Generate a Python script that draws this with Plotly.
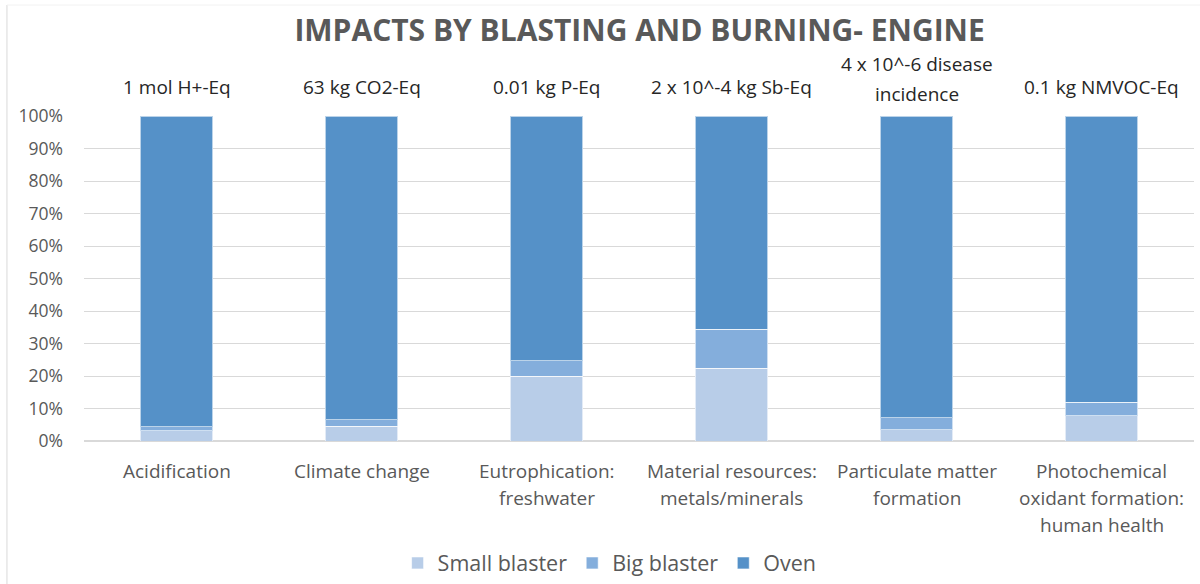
import plotly.graph_objects as go

categories = [
    "Acidification",
    "Climate change",
    "Eutrophication: freshwater",
    "Material resources: metals/minerals",
    "Particulate matter formation",
    "Photochemical oxidant formation: human health",
]
# wrapped category labels, one entry per drawn line
category_lines = [
    ["Acidification"],
    ["Climate change"],
    ["Eutrophication:", "freshwater"],
    ["Material resources:", "metals/minerals"],
    ["Particulate matter", "formation"],
    ["Photochemical", "oxidant formation:", "human health"],
]
unit_lines = [
    ["1 mol H+-Eq"],
    ["63 kg CO2-Eq"],
    ["0.01 kg P-Eq"],
    ["2 x 10^-4 kg Sb-Eq"],
    ["4 x 10^-6 disease", "incidence"],
    ["0.1 kg NMVOC-Eq"],
]
small_blaster = [3.1, 4.6, 20.0, 22.4, 3.4, 7.7]
big_blaster = [1.3, 1.9, 4.7, 12.0, 3.8, 4.3]
oven = [95.6, 93.5, 75.3, 65.6, 92.8, 88.0]

series = [
    ("Small blaster", small_blaster, "#B8CDE8"),
    ("Big blaster", big_blaster, "#84AEDC"),
    ("Oven", oven, "#5591C8"),
]

font_family = "Open Sans, Carlito, Calibri, sans-serif"

fig = go.Figure()
for name, vals, color in series:
    fig.add_trace(go.Bar(
        name=name,
        x=categories,
        y=[v / 100 for v in vals],
        marker=dict(color=color, line=dict(color="rgba(255,255,255,0.6)", width=1)),
        width=0.39,
    ))

# category labels below the axis, 27 px line pitch
for cat, lines in zip(categories, category_lines):
    for i, line in enumerate(lines):
        fig.add_annotation(
            x=cat, y=0, xref="x", yref="paper",
            text=line, showarrow=False,
            yanchor="middle", yshift=-30 - 27 * i,
            font=dict(family=font_family, size=19, color="#595959"),
        )

# reference-unit labels above each bar
for cat, lines in zip(categories, unit_lines):
    if len(lines) == 1:
        shifts = [29]
    else:
        shifts = [52, 22]
    for line, s in zip(lines, shifts):
        fig.add_annotation(
            x=cat, y=1, xref="x", yref="paper",
            text=line, showarrow=False,
            yanchor="middle", yshift=s,
            font=dict(family=font_family, size=19, color="#262626"),
        )

fig.update_layout(
    barmode="stack",
    width=1200, height=584,
    margin=dict(l=84, r=6, t=116, b=143),
    paper_bgcolor="white",
    plot_bgcolor="white",
    title=dict(
        text="<b>IMPACTS BY BLASTING AND BURNING- ENGINE</b>",
        x=0.533, xanchor="center", y=0.948, yanchor="middle",
        font=dict(family=font_family, size=30, color="#595959"),
    ),
    font=dict(family=font_family, size=17, color="#595959"),
    legend=dict(
        orientation="h", xref="container", yref="container",
        x=0.508, xanchor="center", y=0.036, yanchor="middle",
        font=dict(family=font_family, size=21.5, color="#595959"),
        traceorder="normal",
    ),
    xaxis=dict(
        showgrid=False, showline=False, ticks="",
        showticklabels=False,
    ),
    yaxis=dict(
        range=[0, 1], tickformat=".0%", dtick=0.1,
        showgrid=True, gridcolor="#D9D9D9", gridwidth=1,
        zeroline=True, zerolinecolor="#D9D9D9",
        ticks="", ticklabelstandoff=20,
        tickfont=dict(family=font_family, size=17.5, color="#595959"),
    ),
    shapes=[
        dict(type="line", xref="paper", yref="paper",
             x0=-0.0694, x1=-0.0694, y0=-0.45, y1=1.3415,
             line=dict(color="#D9D9D9", width=1)),
        dict(type="line", xref="paper", yref="paper",
             x0=-0.0694, x1=1.01, y0=1.3415, y1=1.3415,
             line=dict(color="#F2F2F2", width=1)),
    ],
)

fig.write_html("out.html")
